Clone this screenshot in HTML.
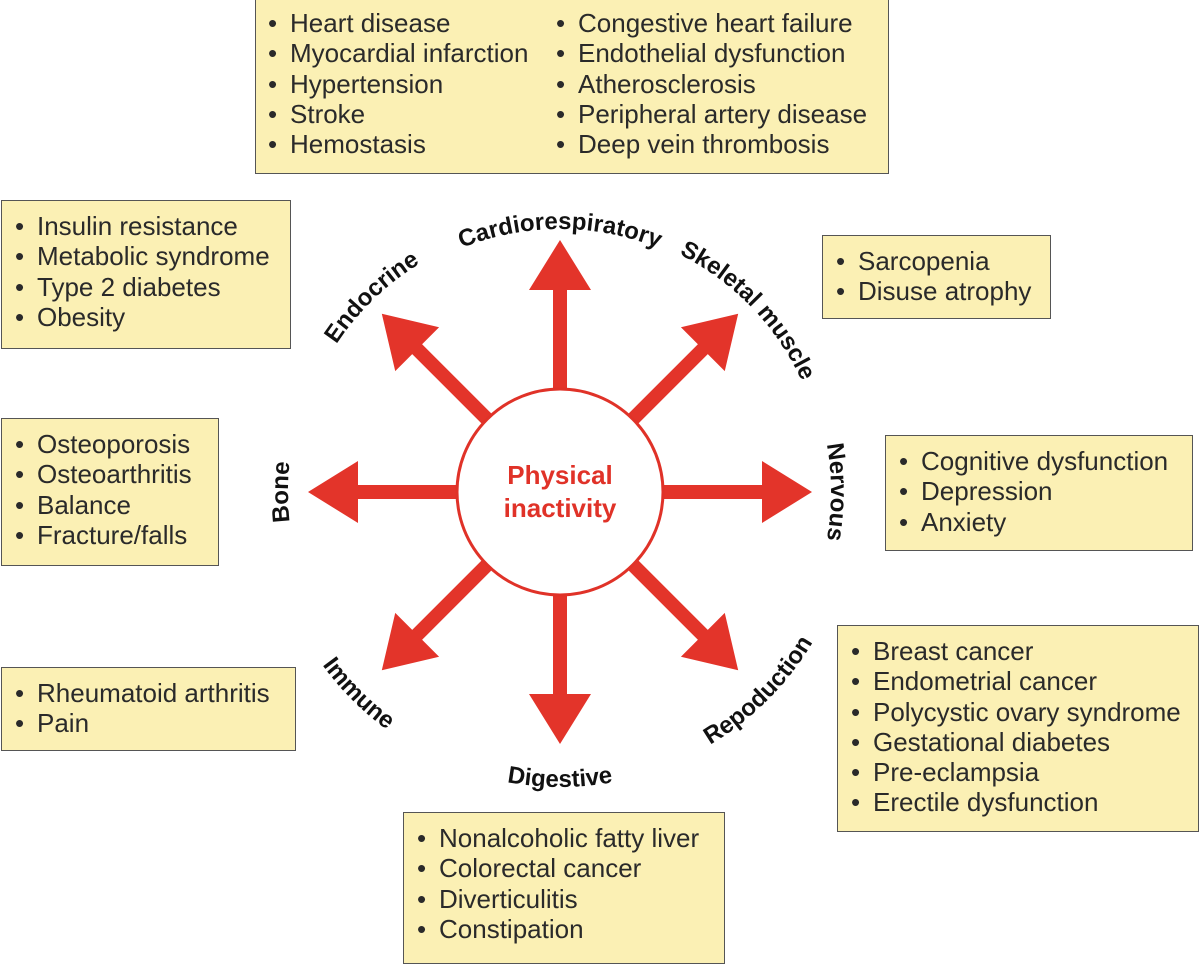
<!DOCTYPE html>
<html><head><meta charset="utf-8"><style>
body{margin:0;width:1200px;height:960px;background:#fff;position:relative;overflow:hidden;font-family:"Liberation Sans",sans-serif;}
.b{position:absolute;background:#fbf0b4;border:1.5px solid #555;box-sizing:border-box;padding:10px 0 0 13px;font-size:26px;line-height:30.3px;color:#2a2a2a;white-space:nowrap;}
.i::before{content:"•";display:inline-block;width:22px;}
.col{position:absolute;top:9px;}
svg{position:absolute;left:0;top:0;}
</style></head><body>
<div class="b" style="left:255px;top:-2px;width:634px;height:176px;padding:0">
 <div class="col" style="left:12px"><div class="i">Heart disease</div><div class="i">Myocardial infarction</div><div class="i">Hypertension</div><div class="i">Stroke</div><div class="i">Hemostasis</div></div>
 <div class="col" style="left:300px"><div class="i">Congestive heart failure</div><div class="i">Endothelial dysfunction</div><div class="i">Atherosclerosis</div><div class="i">Peripheral artery disease</div><div class="i">Deep vein thrombosis</div></div>
</div>
<div class="b" style="left:1px;top:200px;width:290px;height:149px"><div class="i">Insulin resistance</div><div class="i">Metabolic syndrome</div><div class="i">Type 2 diabetes</div><div class="i">Obesity</div></div>
<div class="b" style="left:822px;top:235px;width:229px;height:84px"><div class="i">Sarcopenia</div><div class="i">Disuse atrophy</div></div>
<div class="b" style="left:1px;top:418px;width:218px;height:148px"><div class="i">Osteoporosis</div><div class="i">Osteoarthritis</div><div class="i">Balance</div><div class="i">Fracture/falls</div></div>
<div class="b" style="left:885px;top:435px;width:308px;height:116px"><div class="i">Cognitive dysfunction</div><div class="i">Depression</div><div class="i">Anxiety</div></div>
<div class="b" style="left:1px;top:667px;width:295px;height:84px"><div class="i">Rheumatoid arthritis</div><div class="i">Pain</div></div>
<div class="b" style="left:837px;top:625px;width:362px;height:207px"><div class="i">Breast cancer</div><div class="i">Endometrial cancer</div><div class="i">Polycystic ovary syndrome</div><div class="i">Gestational diabetes</div><div class="i">Pre-eclampsia</div><div class="i">Erectile dysfunction</div></div>
<div class="b" style="left:403px;top:812px;width:322px;height:152px"><div class="i">Nonalcoholic fatty liver</div><div class="i">Colorectal cancer</div><div class="i">Diverticulitis</div><div class="i">Constipation</div></div>

<svg width="1200" height="960" viewBox="0 0 1200 960">
<defs>
<g id="arr"><polygon points="100,-7 202,-7 202,-31 252,0 202,31 202,7 100,7" fill="#e3342a"/></g>
</defs>
<g transform="translate(560,492)">
<use href="#arr" transform="rotate(0)"/><use href="#arr" transform="rotate(45)"/><use href="#arr" transform="rotate(90)"/><use href="#arr" transform="rotate(135)"/>
<use href="#arr" transform="rotate(180)"/><use href="#arr" transform="rotate(225)"/><use href="#arr" transform="rotate(270)"/><use href="#arr" transform="rotate(315)"/>
<circle r="103" fill="#fff" stroke="#e03228" stroke-width="3"/>
<text y="-8" text-anchor="middle" font-size="26" font-weight="bold" fill="#e03228">Physical</text>
<text y="25" text-anchor="middle" font-size="26" font-weight="bold" fill="#e03228">inactivity</text>
</g>
<g font-size="24" font-weight="bold" fill="#111" id="labels"></g>
</svg>
<script>
(function(){
var cx=560,cy=492,ns="http://www.w3.org/2000/svg",g=document.getElementById('labels'),defs=document.querySelector('defs');
var L=[["Cardiorespiratory",-90,263,1],["Endocrine",-134,268,1],["Skeletal muscle",-44,266,1],["Nervous",0,271,1],["Bone",180,272,1],
["Immune",135,294,0],["Digestive",90,295,0],["Repoduction",45,294,0]];
L.forEach(function(l,i){
 var a=l[1]*Math.PI/180,s=60*Math.PI/180,r=l[2],a1,a2;
 if(l[3]){a1=a-s;a2=a+s;}else{a1=a+s;a2=a-s;}
 var d="M "+(cx+r*Math.cos(a1))+" "+(cy+r*Math.sin(a1))+" A "+r+" "+r+" 0 0 "+l[3]+" "+(cx+r*Math.cos(a2))+" "+(cy+r*Math.sin(a2));
 var p=document.createElementNS(ns,"path");p.setAttribute("id","lp"+i);p.setAttribute("d",d);defs.appendChild(p);
 var t=document.createElementNS(ns,"text");t.setAttribute("text-anchor","middle");
 var tp=document.createElementNS(ns,"textPath");tp.setAttribute("href","#lp"+i);tp.setAttribute("startOffset","50%");tp.textContent=l[0];
 t.appendChild(tp);g.appendChild(t);
});
})();
</script>
</body></html>
